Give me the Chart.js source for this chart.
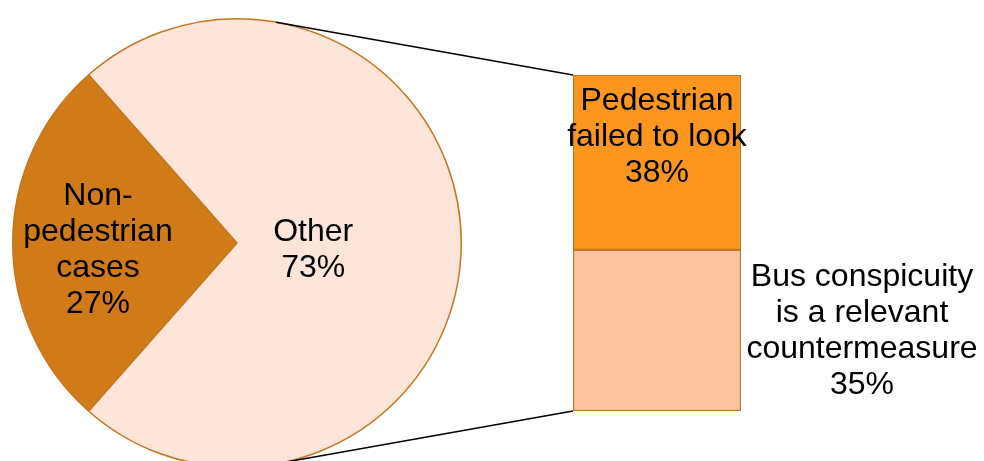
<!DOCTYPE html>
<html>
<head>
<meta charset="utf-8">
<script src="https://cdn.jsdelivr.net/npm/chart.js@4.4.1/dist/chart.umd.min.js"></script>
<style>
  html, body { margin: 0; padding: 0; background: #fff; overflow: hidden; }
  .wrap { position: relative; width: 984px; height: 461px; overflow: hidden; }
  canvas { position: absolute; left: 0; top: 0; }
</style>
</head>
<body>
<div class="wrap">
  <canvas id="pieChart" width="984" height="480"></canvas>
  <canvas id="barChart" width="984" height="480"></canvas>
</div>
<script>
/* ================= DATA ================= */
const pieLabels = ["Non-pedestrian cases", "Other"];
const pieValues = [27, 73];
const pieLabelLines = [["Non-", "pedestrian", "cases"], ["Other"]];

// bottom segment first (stacked upwards)
const barLabels = ["Bus conspicuity is a relevant countermeasure", "Pedestrian failed to look"];
const barValues = [35, 38];
const barLabelLines = [["Bus conspicuity", "is a relevant", "countermeasure"], ["Pedestrian", "failed to look"]];

/* ================= STYLE ================= */
const FONT = "32px 'Liberation Sans', Arial, sans-serif";
const LINE_H = 36;
const borderCol = "#C57620";

const drawLines = (ctx, lines, x, yMid) => {
  ctx.save();
  ctx.font = FONT;
  ctx.fillStyle = "#000";
  ctx.textAlign = "center";
  ctx.textBaseline = "middle";
  const y0 = yMid - ((lines.length - 1) * LINE_H) / 2;
  lines.forEach((t, i) => ctx.fillText(t, x, y0 + i * LINE_H));
  ctx.restore();
};

/* ================= BAR ================= */
const barText = {
  id: "barText",
  afterDatasetsDraw(chart) {
    const ctx = chart.ctx;
    const top = chart.getDatasetMeta(1).data[0];
    const bot = chart.getDatasetMeta(0).data[0];
    // Pedestrian failed to look - inside, near the top
    const l1 = barLabelLines[1].concat([barValues[1] + "%"]);
    drawLines(ctx, l1, top.x, top.y + 26 + LINE_H);
    // Bus conspicuity - right of the bar
    const l0 = barLabelLines[0].concat([barValues[0] + "%"]);
    const right = bot.x + bot.width / 2;
    drawLines(ctx, l0, right + 121, (bot.y + bot.base) / 2 + 1);
  },
};

const barChart = new Chart(document.getElementById("barChart"), {
  type: "bar",
  data: {
    labels: [""],
    datasets: [
      {
        label: barLabels[0],
        data: [barValues[0]],
        backgroundColor: "#FDC3A0",
        borderColor: borderCol,
        borderWidth: 1.5,
        borderSkipped: false,
      },
      {
        label: barLabels[1],
        data: [barValues[1]],
        backgroundColor: "#FC961F",
        borderColor: borderCol,
        borderWidth: 1.5,
        borderSkipped: false,
      },
    ],
  },
  options: {
    responsive: false,
    animation: false,
    layout: { padding: { left: 573, right: 243, top: 75, bottom: 69 } },
    datasets: { bar: { barPercentage: 1, categoryPercentage: 1 } },
    scales: {
      x: { stacked: true, display: false },
      y: { stacked: true, display: false, min: 0, max: 73 },
    },
    plugins: { legend: { display: false }, tooltip: { enabled: false } },
  },
  plugins: [barText],
});

/* ================= PIE ================= */
const pieExtras = {
  id: "pieExtras",
  afterDatasetsDraw(chart) {
    const ctx = chart.ctx;
    const arcs = chart.getDatasetMeta(0).data;
    const cx = arcs[0].x, cy = arcs[0].y, r = arcs[0].outerRadius;

    // connector lines, tangent to the pie, to the bar corners
    const top = barChart.getDatasetMeta(1).data[0];
    const bot = barChart.getDatasetMeta(0).data[0];
    const left = top.x - top.width / 2;
    const pts = [[left, top.y, -1], [left, bot.base, 1]];
    ctx.save();
    ctx.strokeStyle = "#000";
    ctx.lineWidth = 1.5;
    pts.forEach(([px, py, s]) => {
      const d = Math.hypot(px - cx, py - cy);
      const a = Math.atan2(py - cy, px - cx) + s * Math.acos(r / d);
      ctx.beginPath();
      ctx.moveTo(cx + r * Math.cos(a), cy + r * Math.sin(a));
      ctx.lineTo(px, py);
      ctx.stroke();
    });
    ctx.restore();

    // slice labels
    const factors = [0.62, 0.34];
    arcs.forEach((arc, i) => {
      const mid = (arc.startAngle + arc.endAngle) / 2;
      const x = cx + Math.cos(mid) * r * factors[i];
      const y = cy + Math.sin(mid) * r * factors[i] + 7;
      drawLines(ctx, pieLabelLines[i].concat([pieValues[i] + "%"]), x, y);
    });
  },
};

new Chart(document.getElementById("pieChart"), {
  type: "pie",
  data: {
    labels: pieLabels,
    datasets: [
      {
        data: pieValues,
        backgroundColor: ["#D17A18", "#FDE5DA"],
        borderColor: [borderCol, borderCol],
        borderWidth: 1.5,
      },
    ],
  },
  options: {
    responsive: false,
    animation: false,
    rotation: 221.4,
    layout: { padding: { left: 12, right: 522, top: 18, bottom: 12 } },
    plugins: { legend: { display: false }, tooltip: { enabled: false } },
  },
  plugins: [pieExtras],
});
</script>
</body>
</html>
